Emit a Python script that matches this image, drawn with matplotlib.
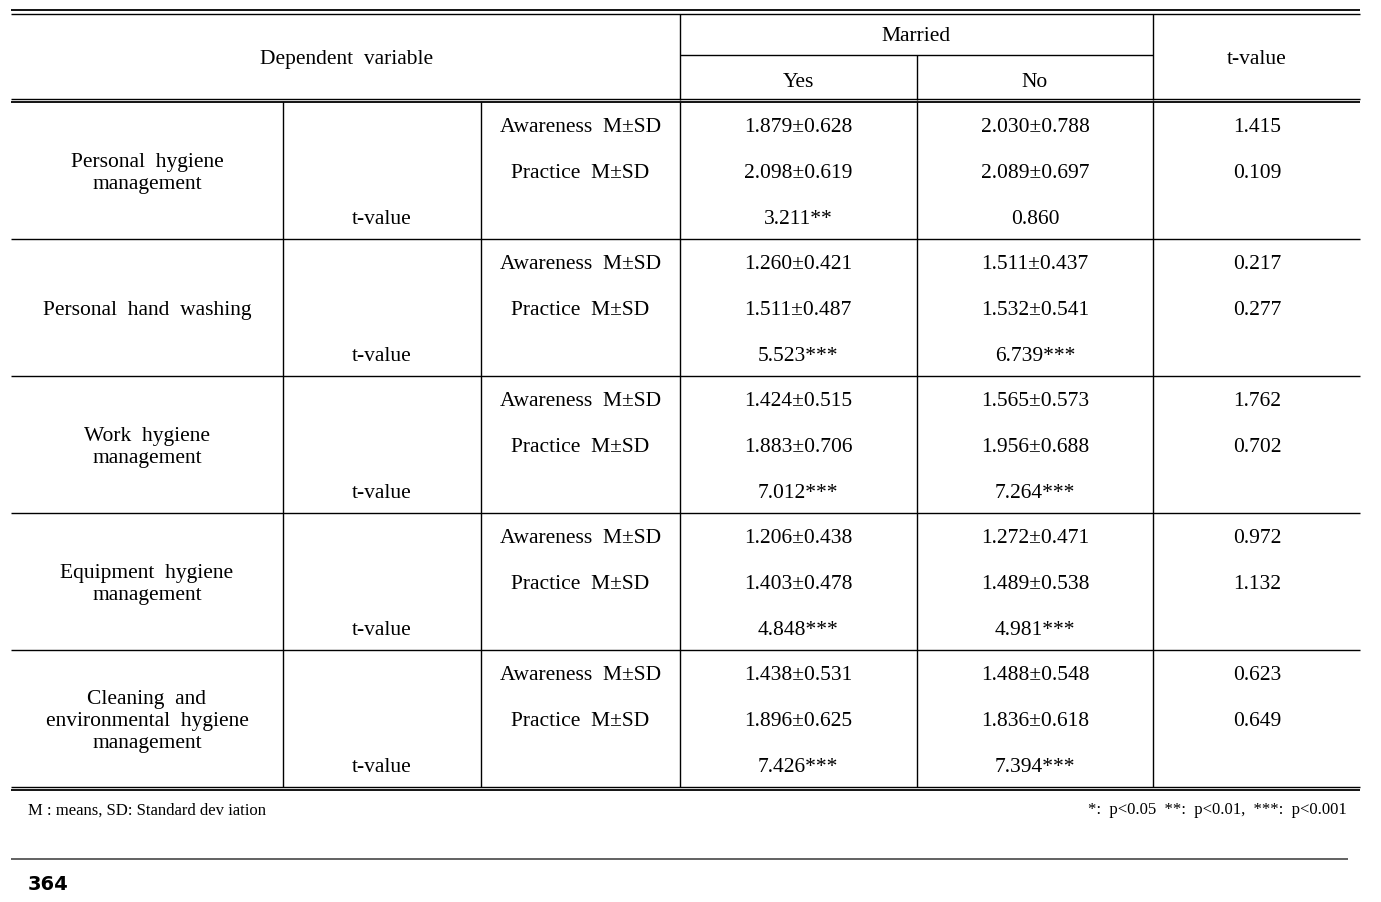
import matplotlib
matplotlib.use("Agg")
import matplotlib.pyplot as plt

categories = ["Personal  hygiene\nmanagement", "Personal  hand  washing",
              "Work  hygiene\nmanagement", "Equipment  hygiene\nmanagement",
              "Cleaning  and\nenvironmental  hygiene\nmanagement"]
measures = ["Awareness  M±SD", "Practice  M±SD"]
yes_vals = [["1.879±0.628", "2.098±0.619", "3.211**"],
            ["1.260±0.421", "1.511±0.487", "5.523***"],
            ["1.424±0.515", "1.883±0.706", "7.012***"],
            ["1.206±0.438", "1.403±0.478", "4.848***"],
            ["1.438±0.531", "1.896±0.625", "7.426***"]]
no_vals = [["2.030±0.788", "2.089±0.697", "0.860"],
           ["1.511±0.437", "1.532±0.541", "6.739***"],
           ["1.565±0.573", "1.956±0.688", "7.264***"],
           ["1.272±0.471", "1.489±0.538", "4.981***"],
           ["1.488±0.548", "1.836±0.618", "7.394***"]]
t_vals = [["1.415", "0.109"], ["0.217", "0.277"], ["1.762", "0.702"],
          ["0.972", "1.132"], ["0.623", "0.649"]]
header_dep = "Dependent  variable"
header_married = "Married"
header_yes = "Yes"
header_no = "No"
header_t = "t-value"
foot_left = "M : means, SD: Standard dev iation"
foot_right = "*:  p<0.05  **:  p<0.01,  ***:  p<0.001"
page_no = "364"

W, H = 1381, 903
fig = plt.figure(figsize=(W / 100, H / 100), dpi=100)
ax = fig.add_axes([0, 0, 1, 1])
ax.set_xlim(0, W)
ax.set_ylim(H, 0)
ax.axis("off")

serif = "Liberation Serif"
fs = 15.5
lw = 1.0
X0, X1 = 11, 1360
cols = [X0, 283, 481, 680, 917, 1153, X1]
DY = 2.5

def hline(y, x0=X0, x1=X1, lw=lw, color="black"):
    ax.plot([x0, x1], [y, y], color=color, lw=lw, solid_capstyle="butt")

def vline(x, y0, y1):
    ax.plot([x, x], [y0, y1], color="black", lw=lw, solid_capstyle="butt")

def txt(x, y, s, size=fs, ha="center", **kw):
    ax.text(x, y + DY, s, ha=ha, va="center", fontsize=size, family=serif,
            linespacing=1.2, **kw)

# top double line
hline(10.5, lw=1.3)
hline(14.5)
# header
header_bottom = 101
txt(347, 57, header_dep)
txt(916, 34, header_married)
hline(56, 680, 1153)
txt(798, 80, header_yes)
txt(1035, 80, header_no)
txt(1257, 57, header_t)
vline(680, 14.5, header_bottom)
vline(917, 56, header_bottom)
vline(1153, 14.5, header_bottom)
hline(header_bottom - 1.5)
hline(header_bottom + 2, lw=1.3)

# body
gtop = 103
gh = 137
sub = [22, 68, 114]
for i, cat in enumerate(categories):
    y0 = gtop + i * gh
    txt((cols[0] + cols[1]) / 2, y0 + 68, cat)
    txt((cols[1] + cols[2]) / 2, y0 + sub[2], header_t)
    for j in range(2):
        txt((cols[2] + cols[3]) / 2, y0 + sub[j], measures[j])
        txt(1257, y0 + sub[j], t_vals[i][j])
    for j in range(3):
        txt(798, y0 + sub[j], yes_vals[i][j])
        txt(1035, y0 + sub[j], no_vals[i][j])
    if i < len(categories) - 1:
        hline(y0 + gh)
for x in cols[1:-1]:
    vline(x, gtop, gtop + 5 * gh)
bottom = gtop + 5 * gh
hline(bottom + 0.5)
hline(bottom + 3.5, lw=1.3)

# footnotes
txt(28, 808, foot_left, size=12, ha="left")
txt(1347, 808, foot_right, size=12, ha="right")
hline(860, 11, 1348, lw=1.3, color="#555555")
ax.text(28, 885, page_no, ha="left", va="center", fontsize=14,
        family="DejaVu Sans", fontweight="bold")

fig.savefig("out.png", dpi=100)
